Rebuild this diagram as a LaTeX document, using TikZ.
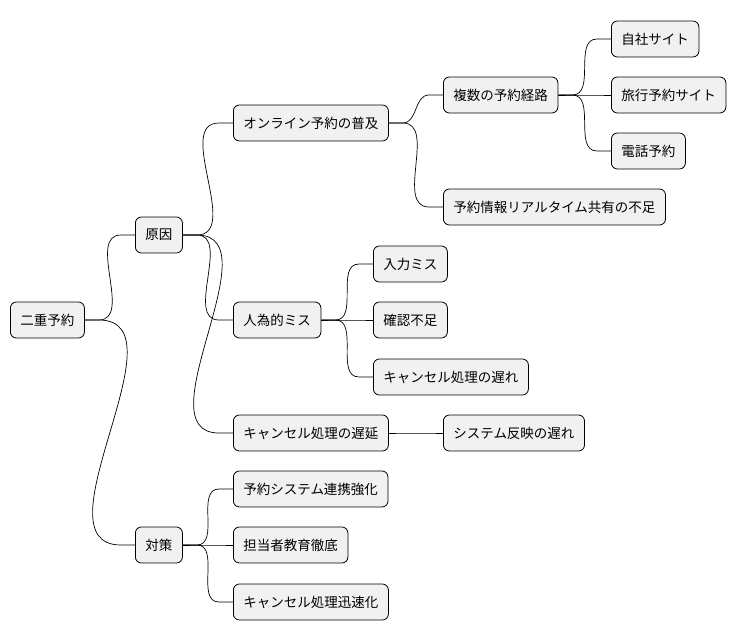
\documentclass[tikz,border=0pt]{standalone}
\usepackage{fontspec}
\setmainfont{Noto Sans CJK JP}
\definecolor{nodebg}{HTML}{F1F1F1}
\begin{document}
\begin{tikzpicture}[x=1pt,y=-1pt,
  mm/.style={draw=black,fill=nodebg,rounded corners=6pt,anchor=west,inner xsep=10pt,minimum height=36pt,font=\fontsize{13.5}{15}\selectfont,line width=0.8pt},
  conn/.style={line width=0.7pt}]
\useasboundingbox (0,0) rectangle (740,640);
\node[mm] (root) at (10,320) {二重予約};
\node[mm] (gen) at (135,235) {原因};
\node[mm] (tai) at (135,545) {対策};
\node[mm] (onl) at (233,123) {オンライン予約の普及};
\node[mm] (jin) at (233,320) {人為的ミス};
\node[mm] (cdl) at (233,433) {キャンセル処理の遅延};
\node[mm] (ren) at (233,489) {予約システム連携強化};
\node[mm] (kyo) at (233,545) {担当者教育徹底};
\node[mm] (jin2) at (233,602) {キャンセル処理迅速化};
\node[mm] (fuk) at (443,95) {複数の予約経路};
\node[mm] (rt) at (443,207) {予約情報リアルタイム共有の不足};
\node[mm] (nyu) at (373,264) {入力ミス};
\node[mm] (kak) at (373,320) {確認不足};
\node[mm] (cok) at (373,377) {キャンセル処理の遅れ};
\node[mm] (sys) at (443,433) {システム反映の遅れ};
\node[mm] (jis) at (611,39) {自社サイト};
\node[mm] (ryo) at (611,95) {旅行予約サイト};
\node[mm] (den) at (611,151) {電話予約};
\foreach \p/\c in {root/gen,root/tai,gen/onl,gen/jin,gen/cdl,tai/ren,tai/kyo,tai/jin2,onl/fuk,onl/rt,jin/nyu,jin/kak,jin/cok,cdl/sys,fuk/jis,fuk/ryo,fuk/den}
  \draw[conn] (\p.east) -- ++(14,0) to[out=0,in=180] ([xshift=-14pt]\c.west) -- (\c.west);
\end{tikzpicture}
\end{document}
